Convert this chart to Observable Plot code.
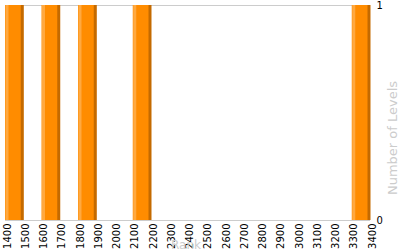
<!DOCTYPE html>
<html><head><meta charset="utf-8">
<script src="https://cdn.jsdelivr.net/npm/d3@7"></script>
<script src="https://cdn.jsdelivr.net/npm/@observablehq/plot@0.6"></script>
<style>body{margin:0;background:#fff}</style>
</head><body><div id="chart"></div>
<script>
const binStarts = [1400, 1600, 1800, 2100, 3300];
const binEnds = [1500, 1700, 1900, 2200, 3400];
const levelCounts = [1, 1, 1, 1, 1];
const xTicks = d3.range(1400, 3401, 100);
const yTicks = [0, 1];

const data = binStarts.map((s, i) => ({x1: s, x2: binEnds[i], n: levelCounts[i]}));
const font = "DejaVu Sans, Verdana, sans-serif";

const chart = Plot.plot({
  width: 400, height: 250,
  marginLeft: 5, marginRight: 30, marginTop: 5, marginBottom: 30,
  style: {fontFamily: font, background: "#fff"},
  x: {domain: [1400, 3400]},
  y: {domain: [0, 1]},
  marks: [
    Plot.ruleY([0, 1], {stroke: "#ccc"}),
    Plot.ruleX([1400], {stroke: "#ccc"}),
    Plot.rectY(data, {x1: "x1", x2: "x2", y: "n", fill: "#ff8c00"}),
    Plot.ruleX(data, {x: "x1", y1: 0, y2: "n", stroke: "#ffa940", strokeWidth: 3, dx: 1.5}),
    Plot.ruleX(data, {x: "x2", y1: 0, y2: "n", stroke: "#c46a00", strokeWidth: 3, dx: -1.5}),
    Plot.axisX({ticks: xTicks, tickFormat: d => String(d), tickRotate: -90, tickSize: 0, tickPadding: 3, dx: 2, fontSize: 10, fill: "#000", label: null}),
    Plot.axisY({anchor: "right", ticks: yTicks, tickFormat: d => String(d), tickSize: 0, tickPadding: 6, fontSize: 10, fill: "#000", label: null}),
    Plot.text(["Rank"], {frameAnchor: "bottom", dx: -2, dy: 28, fill: "#ccc", fontSize: 12, lineAnchor: "bottom"}),
    Plot.text(["Number of Levels"], {frameAnchor: "right", textAnchor: "middle", dx: 22, dy: 25, rotate: -90, fill: "#ccc", fontSize: 13})
  ]
});
document.getElementById("chart").append(chart);
</script></body></html>
